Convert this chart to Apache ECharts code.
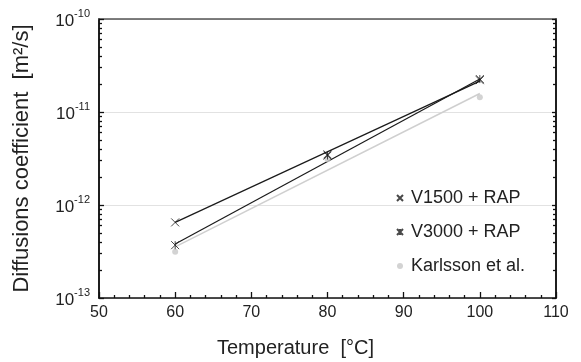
<!DOCTYPE html>
<html>
<head>
<meta charset="utf-8">
<script src="https://cdn.jsdelivr.net/npm/echarts@6/dist/echarts.min.js"></script>
<style>
  html, body { margin: 0; padding: 0; background: #fff; }
  #chart { width: 581px; height: 362px; }
</style>
</head>
<body>
<div id="chart"></div>
<script>
// measured points (temperature in °C, diffusion coefficient in m²/s)
const temps = [60, 80, 100];
const v1500 = [6.5e-13, 3.5e-12, 2.2e-11];
const v3000 = [3.7e-13, 3.4e-12, 2.26e-11];
const karlsson = [3.15e-13, 3.1e-12, 1.44e-11];

// fitted lines, read at their end points
const fitTemps = [60, 100];
const v1500Fit = [6.5e-13, 2.15e-11];
const v3000Fit = [3.8e-13, 2.26e-11];
const karlssonFit = [3.55e-13, 1.58e-11];

// minor tick positions on the log axis
const minorTicks = [
  2e-13, 3e-13, 4e-13, 5e-13, 6e-13, 7e-13, 8e-13, 9e-13,
  2e-12, 3e-12, 4e-12, 5e-12, 6e-12, 7e-12, 8e-12, 9e-12,
  2e-11, 3e-11, 4e-11, 5e-11, 6e-11, 7e-11, 8e-11, 9e-11
];

const pairs = (xs, ys) => xs.map((x, i) => [x, ys[i]]);

const font = 'Liberation Sans, Arial, sans-serif';
const textColor = '#222';

const crossPath = 'path://M0,0L10,10M10,0L0,10';
const starPath = 'path://M0,0L10,10M10,0L0,10M5,0L5,10';

// thin lines got washed out to grey, so a bit over 1px
const axisLine = () => ({ color: '#111', width: 1.5 });
const tickLine = () => ({ color: '#111', width: 1.3 });

const chart = echarts.init(document.getElementById('chart'));

const logAxisBase = {
  type: 'log',
  logBase: 10,
  min: 1e-13,
  max: 1e-10,
  splitNumber: 3
};

// a plain value axis over the exponents, only used to place minor ticks
const minorAxis = side => ({
  type: 'value',
  position: side,
  min: -13,
  max: -10,
  axisLine: { show: true, lineStyle: axisLine() },
  axisTick: {
    show: true, inside: true, length: 3,
    customValues: minorTicks.map(v => Math.log10(v)),
    lineStyle: tickLine()
  },
  axisLabel: { show: false },
  splitLine: { show: false }
});

chart.setOption({
  animation: false,
  backgroundColor: '#fff',
  grid: { left: 99, right: 25, top: 19, bottom: 64 },
  legend: {
    orient: 'vertical',
    left: 391,
    top: 184,
    itemWidth: 12,
    itemHeight: 6,
    itemGap: 16,
    textStyle: { fontFamily: font, fontSize: 18, color: textColor, lineHeight: 18 },
    data: ['V1500 + RAP', 'V3000 + RAP', 'Karlsson et al.']
  },
  graphic: [{
    type: 'text',
    left: 217,
    top: 338,
    style: { text: 'Temperature  [°C]', font: '20px ' + font, fill: textColor }
  }],
  xAxis: [{
    type: 'value',
    min: 50,
    max: 110,
    interval: 10,
    axisLine: { show: true, lineStyle: axisLine() },
    axisTick: { show: true, inside: true, length: 6, lineStyle: tickLine() },
    minorTick: { show: true, splitNumber: 5, length: 3, lineStyle: tickLine() },
    axisLabel: { margin: 7, fontFamily: font, fontSize: 16, color: textColor },
    splitLine: { show: false }
  }, {
    type: 'value',
    position: 'top',
    min: 50,
    max: 110,
    axisLine: { show: true, lineStyle: { color: '#555', width: 1.5 } },
    axisTick: { show: false },
    axisLabel: { show: false },
    splitLine: { show: false }
  }],
  yAxis: [Object.assign({}, logAxisBase, {
    position: 'left',
    name: 'Diffusions coefficient  [m²/s]',
    nameLocation: 'middle',
    nameGap: 66,
    nameTextStyle: { fontFamily: font, fontSize: 22, color: textColor },
    axisLine: { show: true, lineStyle: axisLine() },
    axisTick: { show: true, inside: true, length: 5, lineStyle: tickLine() },
    axisLabel: {
      margin: 9,
      formatter: v => '{b|10}{s|' + Math.round(Math.log10(v)) + '}',
      rich: {
        b: { fontFamily: font, fontSize: 17, color: textColor, lineHeight: 22, verticalAlign: 'bottom' },
        s: { fontFamily: font, fontSize: 11, color: textColor, lineHeight: 22, verticalAlign: 'top', padding: [0, 0, 9, 0] }
      }
    },
    splitLine: { show: true, lineStyle: { color: '#e2e2e2', width: 1 } }
  }), Object.assign({}, logAxisBase, {
    position: 'right',
    axisLine: { show: true, lineStyle: axisLine() },
    axisTick: { show: true, inside: true, length: 4, lineStyle: tickLine() },
    axisLabel: { show: false },
    splitLine: { show: false }
  }), minorAxis('left'), minorAxis('right')],
  series: [
    {
      name: 'V1500 fit', type: 'line', data: pairs(fitTemps, v1500Fit),
      showSymbol: false, symbol: 'none', lineStyle: { color: '#1a1a1a', width: 1.2 }, z: 3
    },
    {
      name: 'V3000 fit', type: 'line', data: pairs(fitTemps, v3000Fit),
      showSymbol: false, symbol: 'none', lineStyle: { color: '#1a1a1a', width: 1.2 }, z: 3
    },
    {
      name: 'Karlsson fit', type: 'line', data: pairs(fitTemps, karlssonFit),
      showSymbol: false, symbol: 'none', lineStyle: { color: '#cfcfcf', width: 1.5 }, z: 2
    },
    {
      name: 'Karlsson et al.', type: 'scatter', data: pairs(temps, karlsson),
      symbol: 'circle', symbolSize: 6, itemStyle: { color: '#c8c8c8' }, z: 4
    },
    {
      name: 'V1500 + RAP', type: 'scatter', data: pairs(temps, v1500),
      symbol: crossPath, symbolSize: 8,
      itemStyle: { color: 'transparent', borderColor: '#1a1a1a', borderWidth: 1 }, z: 5
    },
    {
      name: 'V3000 + RAP', type: 'scatter', data: pairs(temps, v3000),
      symbol: starPath, symbolSize: 8,
      itemStyle: { color: 'transparent', borderColor: '#1a1a1a', borderWidth: 1 }, z: 5
    }
  ]
});
</script>
</body>
</html>
